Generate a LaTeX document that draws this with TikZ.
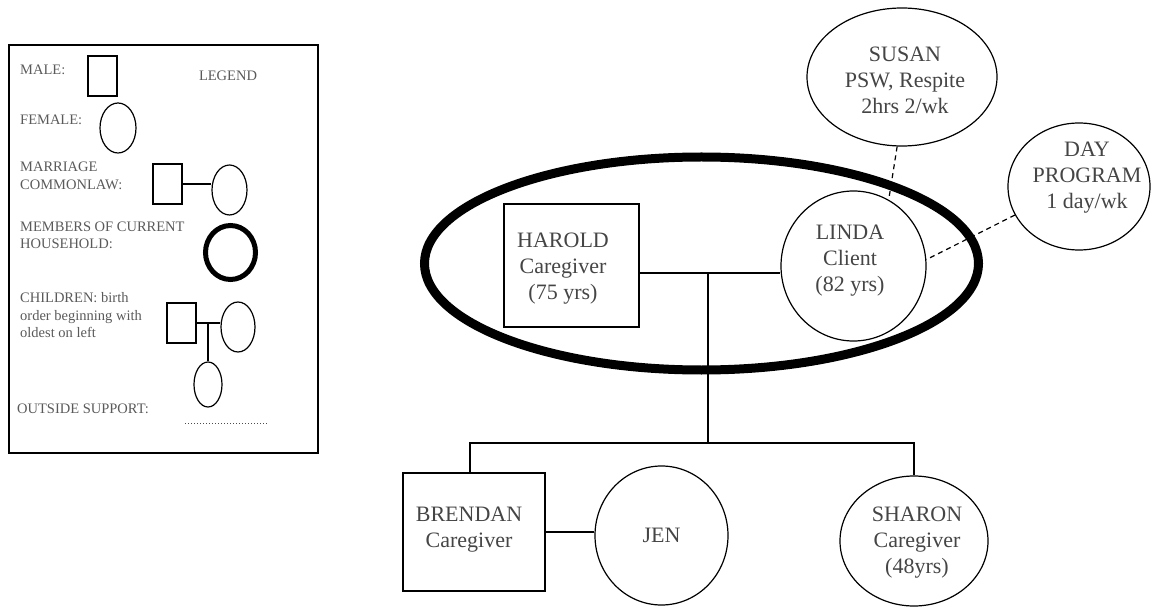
\documentclass[tikz,border=0pt]{standalone}
\usepackage{fontspec}
\setmainfont{Liberation Serif}
\usetikzlibrary{shapes.geometric}
\definecolor{txtmain}{HTML}{454545}
\definecolor{txtleg}{HTML}{5A5A5A}
\tikzset{
  thinline/.style={line width=1.2pt, draw=black},
  malebox/.style={draw=black, line width=1.2pt, rectangle, inner sep=0pt},
  femaleoval/.style={draw=black, line width=1.2pt, ellipse, inner sep=0pt},
  maintext/.style={font=\fontsize{22}{26}\selectfont, text=txtmain, align=center, inner sep=0pt},
  legtext/.style={font=\fontsize{14.5}{17.5}\selectfont, text=txtleg, inner sep=0pt, anchor=base west},
  support/.style={line width=1.2pt, dash pattern=on 5pt off 4pt},
  household/.style={draw=black, line width=9pt, ellipse, inner sep=0pt}
}
\begin{document}
\begin{tikzpicture}[x=1pt,y=1pt]
\useasboundingbox (0,0) rectangle (1159,-612);

% ---------------- Legend ----------------
\node[draw=black, line width=1.5pt, rectangle, minimum width=309pt, minimum height=408pt, inner sep=0pt] (legbox) at (163.5,-249) {};
\node[legtext] (tmale) at (20,-75) {MALE:};
\node[legtext, anchor=base] (tlegend) at (228,-81) {LEGEND};
\node[malebox, minimum width=29pt, minimum height=40pt] (lmale) at (102.5,-76) {};
\node[legtext] (tfemale) at (20,-125) {FEMALE:};
\node[femaleoval, minimum width=36pt, minimum height=50pt] (lfemale) at (118,-128) {};
\node[legtext] (tmar1) at (20,-172) {MARRIAGE};
\node[legtext] (tmar2) at (20,-190) {COMMONLAW:};
\node[malebox, minimum width=29pt, minimum height=40pt] (lmsq) at (167.5,-184) {};
\node[femaleoval, minimum width=35pt, minimum height=50pt] (lmov) at (229.5,-190) {};
\draw[thinline] (lmsq.east) -- (lmsq.east -| lmov.west);
\node[legtext] (thh1) at (20,-232) {MEMBERS OF CURRENT};
\node[legtext] (thh2) at (20,-249) {HOUSEHOLD:};
\node[draw=black, line width=5pt, ellipse, inner sep=0pt, minimum width=50pt, minimum height=54pt] (lhh) at (230.5,-252.5) {};
\node[legtext] (tch1) at (20,-302) {CHILDREN: birth};
\node[legtext] (tch2) at (20,-320) {order beginning with};
\node[legtext] (tch3) at (20,-337) {oldest on left};
\node[malebox, minimum width=29pt, minimum height=40pt] (lcsq) at (181.5,-323) {};
\node[femaleoval, minimum width=34pt, minimum height=50pt] (lcov) at (238,-327) {};
\node[femaleoval, minimum width=28pt, minimum height=45pt] (lchild) at (208,-384.5) {};
\coordinate (lcm) at (208,-323);
\draw[thinline] (lcsq.east) -- (lcsq.east -| lcov.west);
\draw[thinline] (lcm) -- (lchild.north);
\node[legtext] (tout) at (17,-413) {OUTSIDE SUPPORT:};
\coordinate (dotA) at (185,-423);
\coordinate (dotB) at (267,-423);
\draw[line width=0.8pt, draw=black!70, dash pattern=on 1pt off 2pt] (dotA) -- (dotB);

% ---------------- Main diagram ----------------
\node[household, minimum width=554pt, minimum height=213pt] (house) at (701.5,-263.5) {};

\node[malebox, minimum width=135pt, minimum height=123pt,
  label={[maintext, xshift=-8.5pt, yshift=-3.5pt]center:HAROLD\\Caregiver\\(75 yrs)}] (harold) at (571.5,-265.5) {};
\node[femaleoval, minimum width=145pt, minimum height=150pt,
  label={[maintext, xshift=-3.5pt, yshift=5pt]center:LINDA\\Client\\(82 yrs)}] (linda) at (853.5,-266) {};
\node[femaleoval, minimum width=190pt, minimum height=138pt,
  label={[maintext, xshift=3pt, yshift=-3pt]center:SUSAN\\PSW, Respite\\2hrs 2/wk}] (susan) at (902,-77) {};
\node[femaleoval, minimum width=142pt, minimum height=127pt,
  label={[maintext, xshift=8pt, yshift=8.5pt]center:DAY\\PROGRAM\\1 day/wk}] (day) at (1079,-186.5) {};
\node[malebox, minimum width=142pt, minimum height=118pt,
  label={[maintext, xshift=-5pt, yshift=2pt]center:BRENDAN\\Caregiver}] (brendan) at (474,-532) {};
\node[femaleoval, minimum width=133pt, minimum height=139pt,
  label={[maintext]center:JEN}] (jen) at (661.5,-535.5) {};
\node[femaleoval, minimum width=148pt, minimum height=130pt,
  label={[maintext, xshift=3pt, yshift=-2pt]center:SHARON\\Caregiver\\(48yrs)}] (sharon) at (914,-541) {};

% marriage line and descent
\coordinate (mline) at (708,-273);
\coordinate (sib) at (708,-443);
\draw[thinline] (mline -| harold.east) -- (mline -| linda.west);
\draw[thinline] (mline) -- (sib);
\draw[thinline] ([xshift=-4pt]brendan.north) |- (sib) -| (sharon.north);
\draw[thinline] (brendan.east) -- (brendan.east -| jen.west);

% outside supports
\draw[support] (susan.266) -- (linda.62);
\draw[support] (day.204) -- (linda.5);
\end{tikzpicture}
\end{document}
